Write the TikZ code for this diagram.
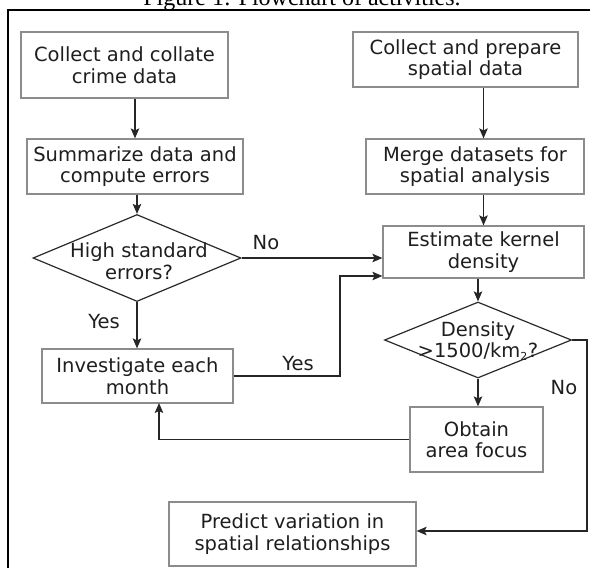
\documentclass[tikz,border=0pt]{standalone}
\usepackage{fontspec}
\setmainfont{DejaVu Sans}
\newfontfamily\titlefont{Liberation Serif}
\usetikzlibrary{shapes.geometric,arrows.meta}
\definecolor{textc}{HTML}{1E1E1E}
\definecolor{boxgray}{HTML}{8C8C8C}
\definecolor{diagray}{HTML}{2A2A2A}
\definecolor{linec}{HTML}{262626}
\begin{document}
\begin{tikzpicture}[x=1pt,y=-1pt,
  txt/.style={font=\fontsize{19.5}{21.5}\selectfont, text=textc},
  box/.style={txt, draw=boxgray, line width=1.2pt, rectangle, inner sep=0pt, align=center},
  dia/.style={draw=diagray, line width=1.2pt, diamond, inner sep=0pt},
  dtxt/.style={txt, align=center},
  arr/.style={draw=linec, line width=1.3pt, -{Stealth[length=10pt,width=8.5pt,inset=2pt]}},
  lbl/.style={txt}]
\useasboundingbox (0,0) rectangle (595,568);
% title and frame
\node[font=\titlefont\fontsize{24}{28}\selectfont, anchor=base, text=black] (title) at (302,5) {Figure 1: Flowchart of activities.};
\coordinate (fbl) at (8,568);
\coordinate (ftl) at (8,10);
\coordinate (ftr) at (590,10);
\draw[line width=1.5pt, black] (fbl) -- (ftl) -- (ftr);
% boxes
\node[box, minimum width=207pt, minimum height=66pt] (b1) at (124.5,65) {Collect and collate\\crime data};
\node[box, minimum width=225pt, minimum height=55pt] (b2) at (465.5,59.5) {Collect and prepare\\spatial data};
\node[box, minimum width=216pt, minimum height=55pt] (b3) at (135,166.5) {Summarize data and\\compute errors};
\node[box, minimum width=218pt, minimum height=55pt] (b4) at (475,166.5) {Merge datasets for\\spatial analysis};
\node[box, minimum width=201pt, minimum height=52pt] (b5) at (483.5,252) {Estimate kernel\\density};
\node[box, minimum width=191pt, minimum height=54pt] (b6) at (137.5,376) {Investigate each\\month};
\node[box, minimum width=133pt, minimum height=65pt] (ob) at (476.5,439.5) {Obtain\\area focus};
\node[box, minimum width=247pt, minimum height=64pt] (pr) at (292.5,534) {Predict variation in\\spatial relationships};
% diamonds
\node[dia, minimum width=208pt, minimum height=87pt] (d1) at (137,258) {};
\node[dtxt] (d1t) at (139,261) {High standard\\errors?};
\node[dia, minimum width=187pt, minimum height=76pt] (d2) at (478,340) {};
\node[dtxt] (d2t) at (478,341) {Density\\{>}1500/km\textsubscript{\fontsize{11}{11}\selectfont 2}?};
% connectors
\draw[arr] (b1.south -| b3.north) -- (b3.north);
\draw[arr] (b2.south -| b5.north) -- (b4.north -| b5.north);
\draw[arr] (b4.south -| b5.north) -- (b5.north);
\draw[arr] (b3.south -| d1.north) -- (d1.north);
\draw[arr] (d1.east) -- (d1.east -| b5.west);
\draw[arr] (d1.south) -- (d1.south |- b6.north);
\coordinate (j1) at (340,276);
\draw[arr] (b6.east) -| (j1) -- (j1 -| b5.west);
\draw[arr] (d2.north |- b5.south) -- (d2.north);
\draw[arr] (d2.south) -- (d2.south |- ob.north);
\coordinate (j3) at (159,403);
\draw[arr] (ob.west) -| (j3);
\coordinate (j2) at (587,531);
\draw[arr] (d2.east) -| (j2) -- (j2 -| pr.east);
% labels
\node[lbl] (lno1) at (266,243) {No};
\node[lbl] (lyes1) at (104,322) {Yes};
\node[lbl] (lyes2) at (298,364) {Yes};
\node[lbl] (lno2) at (564,388) {No};
\end{tikzpicture}
\end{document}
